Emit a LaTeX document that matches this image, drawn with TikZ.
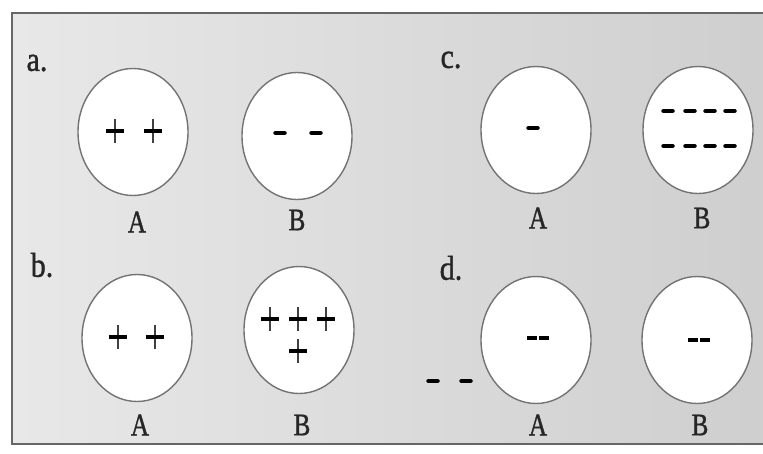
\documentclass[tikz,border=0pt]{standalone}
\usepackage{fontspec}
\usepackage{graphicx}
\setmainfont{Liberation Serif}
\newfontfamily\scanfont[FakeBold=1.3]{Liberation Serif}
\usetikzlibrary{shapes.geometric}
\tikzset{
  ball/.style={ellipse, draw=black!55, line width=1.4pt, fill=white, inner sep=0pt,
               minimum width=110pt, minimum height=127pt},
  ablabel/.style={inner sep=0pt, text=black!85, font=\scanfont\fontsize{25}{25}\selectfont},
  partlabel/.style={inner sep=0pt, text=black!85, font=\scanfont\fontsize{30}{30}\selectfont},
  chplus/.pic={
    \draw[line width=1.6pt, black!75] (0,-12) -- (0,12);
    \draw[line width=3.4pt, black] (-9,0) -- (9,0);
  },
  chminus/.pic={
    \draw[line width=4.5pt, black, line cap=round] (-4.5,0) -- (4.5,0);
  },
  chdminus/.pic={
    \draw[line width=4pt, black] (-11,0) -- (-1,0);
    \draw[line width=4pt, black] (1,0) -- (11,0);
  }
}
\begin{document}
\begin{tikzpicture}[x=1pt, y=-1pt]
\useasboundingbox (0,0) rectangle (763,453);
\fill[white] (0,0) rectangle (763,453);
\shade[left color=black!9, right color=black!19, draw=black!60, line width=1.3pt]
  (12,13) rectangle (766,444);

% part labels
\node[partlabel] (la) at (37,63) {\scalebox{1}[1.15]{a.}};
\node[partlabel] (lb) at (42,265) {\scalebox{1}[1.15]{b.}};
\node[partlabel] (lc) at (451,60) {\scalebox{1}[1.15]{c.}};
\node[partlabel] (ld) at (451,268) {\scalebox{1}[1.15]{d.}};

% spheres
\node[ball] (aA) at (133,132) {};
\node[ball] (aB) at (297,136) {};
\node[ball] (bA) at (137,338) {};
\node[ball] (bB) at (299,330) {};
\node[ball] (cA) at (536,130) {};
\node[ball] (cB) at (698,130) {};
\node[ball] (dA) at (536,340) {};
\node[ball] (dB) at (697,340) {};

% sphere labels
\node[ablabel] (aAl) at (137,222) {\scalebox{1}[1.25]{A}};
\node[ablabel] (aBl) at (297,220) {\scalebox{1}[1.25]{B}};
\node[ablabel] (cAl) at (538,218) {\scalebox{1}[1.25]{A}};
\node[ablabel] (cBl) at (702,218) {\scalebox{1}[1.25]{B}};
\node[ablabel] (bAl) at (140,425) {\scalebox{1}[1.25]{A}};
\node[ablabel] (bBl) at (302,425) {\scalebox{1}[1.25]{B}};
\node[ablabel] (dAl) at (538,425) {\scalebox{1}[1.25]{A}};
\node[ablabel] (dBl) at (700,425) {\scalebox{1}[1.25]{B}};

% charges a
\pic at (115,131) {chplus};
\pic at (153,131) {chplus};
\pic at (280,133) {chminus};
\pic at (316,133) {chminus};
% charges b
\pic at (118,337) {chplus};
\pic at (155,337) {chplus};
\pic at (270,319) {chplus};
\pic at (298,319) {chplus};
\pic at (326,319) {chplus};
\pic at (298,351) {chplus};
% charges c
\pic at (533,128) {chminus};
\foreach \x in {668,690,710,730} {
  \pic at (\x,111) {chminus};
  \pic at (\x,146) {chminus};
}
% charges d
\pic at (538,338) {chdminus};
\pic at (699,340) {chdminus};
\pic at (433,381) {chminus};
\pic at (466,381) {chminus};
\end{tikzpicture}
\end{document}
